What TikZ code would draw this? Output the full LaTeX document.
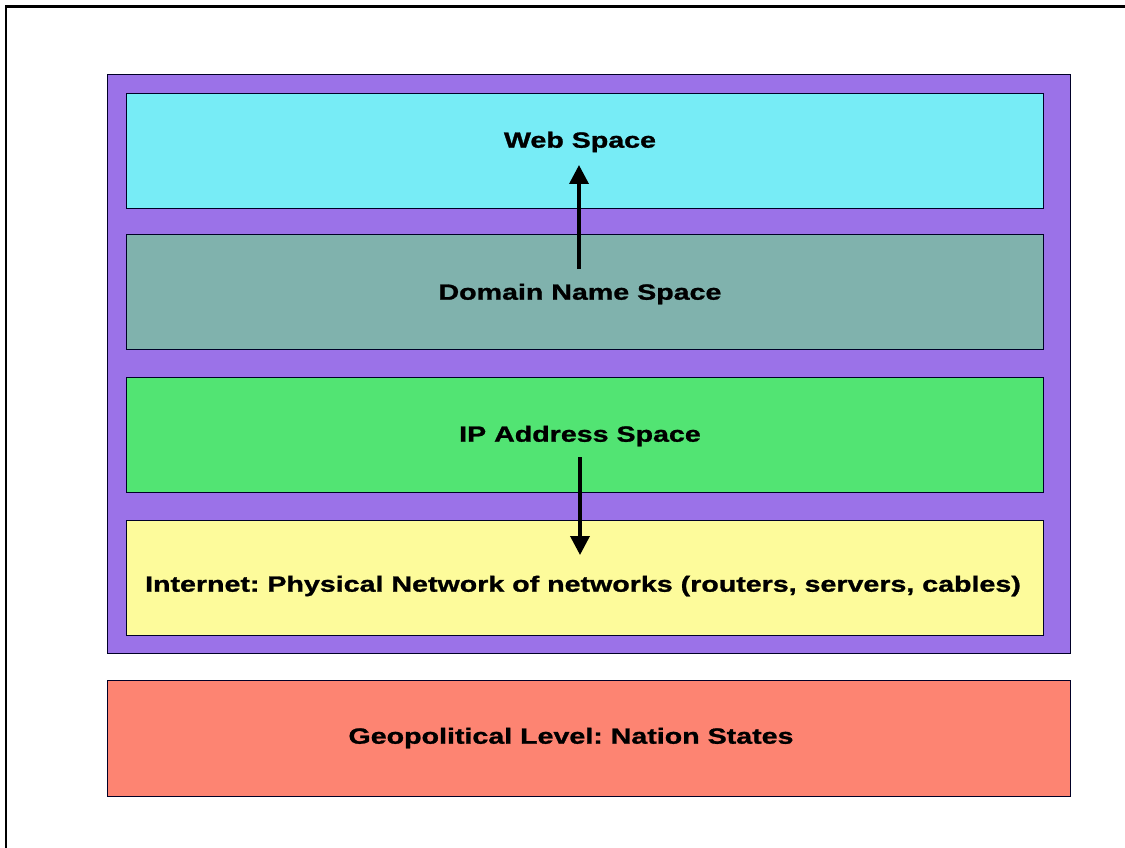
\documentclass[tikz,border=0pt]{standalone}
\usepackage{fontspec}
\setmainfont{Liberation Sans}[FakeStretch=1.3, BoldFeatures={FakeBold=1.2}]
\usetikzlibrary{arrows.meta}
\definecolor{layerpurple}{HTML}{9B72E8}
\definecolor{webcyan}{HTML}{77ECF6}
\definecolor{dnsteal}{HTML}{80B2AD}
\definecolor{ipgreen}{HTML}{52E473}
\definecolor{netyellow}{HTML}{FDFB9B}
\definecolor{geored}{HTML}{FD8472}
\tikzset{
  layer/.style={draw=black!85!blue, line width=1.3pt, inner sep=0pt, anchor=north west},
  band/.style={layer, minimum width=917pt, minimum height=115pt},
  caption/.style={font=\frenchspacing\bfseries\fontsize{22}{25}\selectfont, inner sep=0pt, text=black},
  flow/.style={line width=3.6pt, -{Triangle[width=19pt,length=19pt]}}
}
\begin{document}
\begin{tikzpicture}[x=1pt,y=-1pt]
\useasboundingbox (0,0) rectangle (1125,848);
\fill[white] (0,0) rectangle (1125,848);
% page frame, left and top edges
\draw[line width=2.2pt] (6,848) -- (6,6.5) -- (1125,6.5);

% outer container of the network layers
\node[layer, fill=layerpurple, minimum width=963pt, minimum height=579pt] (stack) at (107,74) {};

% the four stacked layers
\node[band, fill=webcyan]   (web) at (126,93)  {};
\node[band, fill=dnsteal]   (dns) at (126,234) {};
\node[band, fill=ipgreen]   (ip)  at (126,377) {};
\node[band, fill=netyellow] (net) at (126,520) {};

% geopolitical base
\node[layer, fill=geored, minimum width=963pt, minimum height=116pt] (geo) at (107,680) {};

% captions
\node[caption] (webt) at (580,142) {Web Space};
\node[caption] (dnst) at (580,294) {Domain Name Space};
\node[caption] (ipt)  at (580,436) {IP Address Space};
\node[caption] (nett) at (583,586) {Internet: Physical Network of networks (routers, servers, cables)};
\node[caption] (geot) at (571,738) {Geopolitical Level: Nation States};

% relations between layers
\coordinate (dnsTail) at (579,269);
\coordinate (webTip)  at (579,165);
\coordinate (ipTail)  at (580,457);
\coordinate (netTip)  at (580,555);
\draw[flow] (dnsTail) -- (webTip);
\draw[flow] (ipTail) -- (netTip);
\end{tikzpicture}
\end{document}
